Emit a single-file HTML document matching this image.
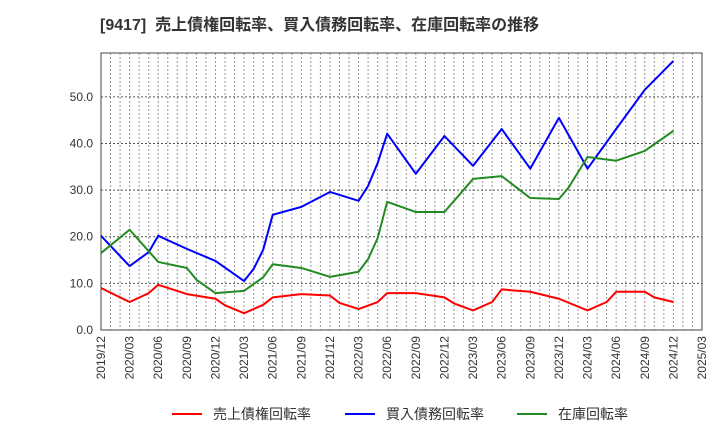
<!DOCTYPE html>
<html><head><meta charset="utf-8"><style>
body{margin:0;background:#fff;}
svg{display:block;font-family:"Liberation Sans","Noto Sans CJK JP",sans-serif;}
</style></head><body>
<svg id="chart" width="720" height="440">
<text x="100" y="30" font-size="16" font-weight="bold" fill="#333" xml:space="preserve" style="white-space:pre">[9417]  売上債権回転率、買入債務回転率、在庫回転率の推移</text>
<g id="grid"></g><g id="axes"></g><g id="series"></g><g id="legend"></g>
</svg>
<script>
const xTickLabels=["2019/12","2020/03","2020/06","2020/09","2020/12","2021/03","2021/06","2021/09","2021/12","2022/03","2022/06","2022/09","2022/12","2023/03","2023/06","2023/09","2023/12","2024/03","2024/06","2024/09","2024/12","2025/03"];
const yTicks=[0,10,20,30,40,50];
const redMonths=[0,3,5,6,9,12,13,15,17,18,21,24,25,27,29,30,32,33,36,37,39,41,42,45,48,51,53,54,57,58,60];
const redValues=[9.0,6.0,7.9,9.7,7.7,6.7,5.3,3.6,5.4,7.0,7.7,7.4,5.8,4.5,6.0,7.9,7.9,7.9,7.0,5.7,4.2,6.0,8.7,8.2,6.7,4.2,6.0,8.2,8.2,7.0,6.0];
const blueMonths=[0,3,5,6,9,12,15,16,17,18,21,24,27,28,29,30,33,36,39,42,45,48,51,54,57,60];
const blueValues=[20.2,13.7,16.7,20.2,17.4,14.8,10.5,13.1,17.2,24.7,26.4,29.6,27.7,30.9,35.8,42.1,33.5,41.6,35.2,43.1,34.6,45.5,34.6,43.1,51.5,57.7];
const greenMonths=[0,3,6,9,10,12,15,17,18,21,24,27,28,29,30,33,36,39,42,45,48,49,51,54,57,60];
const greenValues=[16.5,21.5,14.6,13.3,10.8,7.9,8.4,11.3,14.1,13.3,11.4,12.5,15.2,19.7,27.5,25.3,25.3,32.4,33.0,28.3,28.1,30.5,37.1,36.3,38.4,42.7];
const seriesNames=["売上債権回転率","買入債務回転率","在庫回転率"];

const L=101,R=702,T=53,B=330,NM=63,YMAX=59.4;
const xs=m=>L+(R-L)*m/NM;
const ys=v=>B-(B-T)*v/YMAX;
const NS="http://www.w3.org/2000/svg";
function mk(tag,attrs,parent){const e=document.createElementNS(NS,tag);for(const k in attrs)e.setAttribute(k,attrs[k]);parent.appendChild(e);return e;}
const grid=document.getElementById('grid'),axes=document.getElementById('axes'),ser=document.getElementById('series'),leg=document.getElementById('legend');
for(let m=1;m<NM;m++){const l=mk('line',{x1:xs(m),x2:xs(m),y1:T,y2:B,stroke:'#999','stroke-width':1,'stroke-dasharray':'2,2'},grid);

}
yTicks.forEach(v=>{if(v>0){const l=mk('line',{x1:L,x2:R,y1:ys(v),y2:ys(v),stroke:'#555','stroke-width':1,'stroke-dasharray':'2,2'},grid);

}
const t=mk('text',{x:L-8,y:ys(v)+4,'text-anchor':'end','font-size':12,fill:'#333'},axes);t.textContent=v.toFixed(1);

});
const frame=mk('rect',{x:L,y:T,width:R-L,height:B-T,fill:'none',stroke:'#444','stroke-width':1},axes);


xTickLabels.forEach((s,i)=>{const x=xs(i*3);const t=mk('text',{x:x+4,y:B+6,'text-anchor':'end','font-size':12,fill:'#333',transform:`rotate(-90 ${x+4} ${B+6})`},axes);t.textContent=s;

});
function line(ms,vs,color,name){const p=mk('polyline',{points:ms.map((m,i)=>xs(m)+','+ys(vs[i])).join(' '),fill:'none',stroke:color,'stroke-width':2,'stroke-linejoin':'round'},ser);

}
line(redMonths,redValues,'#ff0000','receivables-turnover-line');
line(blueMonths,blueValues,'#0000ff','payables-turnover-line');
line(greenMonths,greenValues,'#228b22','inventory-turnover-line');
const lx=[172,345,517],cols=['#ff0000','#0000ff','#228b22'];
seriesNames.forEach((n,i)=>{const g=mk('g',{},leg);


mk('line',{x1:lx[i],x2:lx[i]+30,y1:414,y2:414,stroke:cols[i],'stroke-width':2},g);
const t=mk('text',{x:lx[i]+41,y:419,'font-size':14,fill:'#333'},g);t.textContent=n;});
</script>
</body></html>
